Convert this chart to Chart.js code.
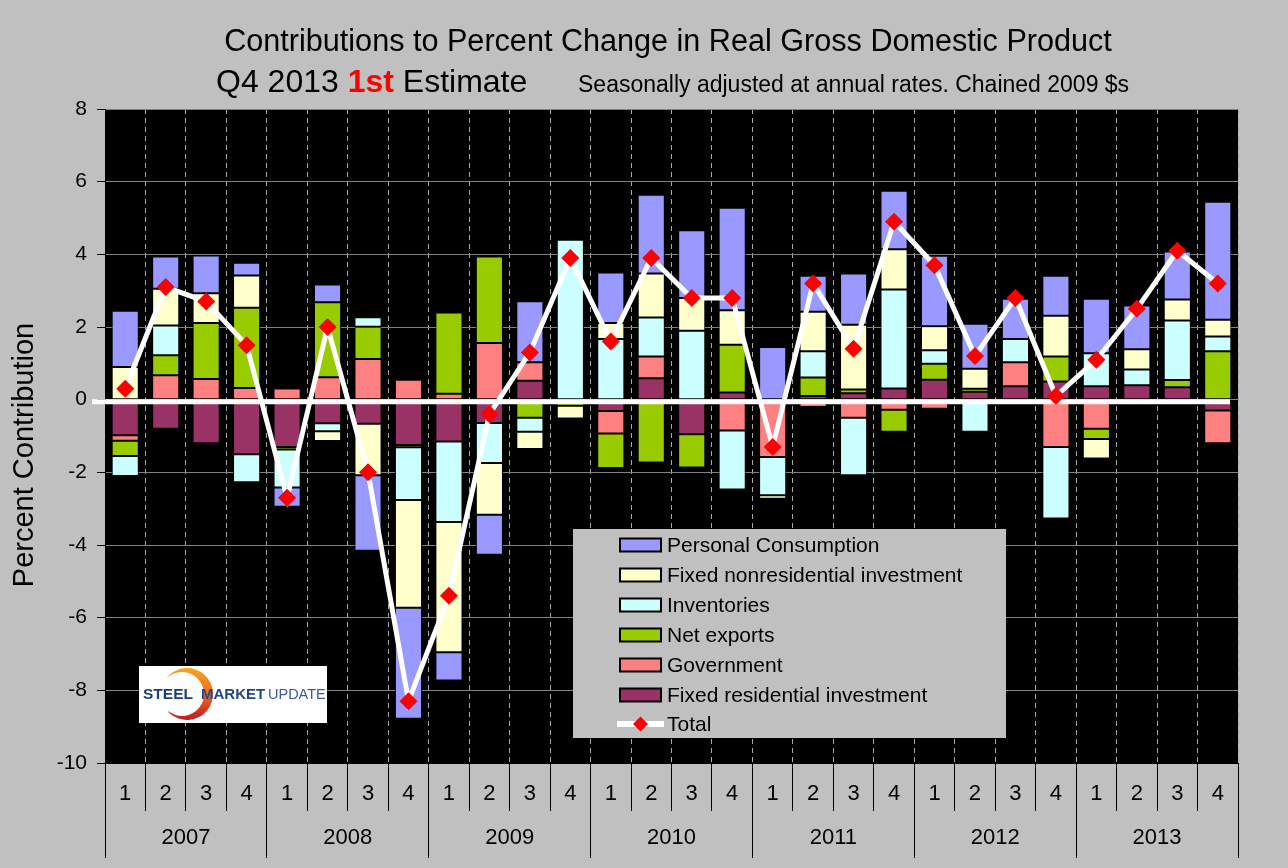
<!DOCTYPE html>
<html>
<head>
<meta charset="utf-8">
<script src="https://cdn.jsdelivr.net/npm/chart.js@4.4.1/dist/chart.umd.min.js"></script>
<style>
html,body{margin:0;padding:0;background:#C0C0C0;}
#wrap{width:1288px;height:868px;position:relative;}
canvas{display:block;}
</style>
</head>
<body>
<div id="wrap"><canvas id="c" width="1288" height="868"></canvas></div>
<script>
// ---------- data ----------
const quarterLabels = ['1','2','3','4','1','2','3','4','1','2','3','4','1','2','3','4','1','2','3','4','1','2','3','4','1','2','3','4'];
const yearLabels = ['2007','2008','2009','2010','2011','2012','2013'];
const yTicks = [8,6,4,2,0,-2,-4,-6,-8,-10];

const personalConsumption = [1.55,0.89,1.04,0.35, -0.53,0.49,-2.08,-3.05, -0.78,-1.10,1.68,0.00, 1.39,2.17,1.86,2.82, 1.45,0.99,1.41,1.61, 1.94,1.24,1.11,1.10, 1.50,1.20,1.32,3.25];
const fixedNonresidential = [0.90,1.01,0.82,0.89, 0.00,-0.27,-1.42,-2.97, -3.58,-1.43,-0.48,-0.35, 0.44,1.21,0.90,0.95, -0.10,1.09,1.78,1.11, 0.66,0.55,0.00,1.12, -0.54,0.56,0.58,0.46];
const inventories = [-0.55,0.82,0.00,-0.77, -1.05,-0.22,0.26,-1.45, -2.22,-1.10,-0.38,4.40, 1.67,1.07,1.90,-1.62, -1.05,0.72,-1.58,2.72, 0.37,-0.88,0.64,-1.97, 0.91,0.43,1.64,0.41];
const netExports = [-0.42,0.55,1.54,2.21, -0.07,2.06,0.89,-0.06, 2.24,2.38,-0.50,-0.17, -0.95,-1.73,-0.92,1.31, 0.00,0.51,0.10,-0.60, 0.44,0.08,0.00,0.69, -0.28,0.00,0.20,1.33];
const government = [-0.15,0.67,0.57,0.32, 0.31,0.62,1.12,0.55, 0.16,1.56,0.51,0.00, -0.62,0.60,0.00,-0.85, -1.58,-0.20,-0.50,-0.28, -0.25,0.00,0.66,-1.30, -0.80,-0.10,0.00,-0.90];
const fixedResidential = [-0.98,-0.80,-1.20,-1.50, -1.30,-0.65,-0.66,-1.25, -1.15,-0.64,0.52,0.00, -0.31,0.59,-0.95,0.20, 0.00,0.10,0.18,0.31, 0.55,0.22,0.37,0.50, 0.37,0.40,0.34,-0.30];
const totalGDP = [0.3,3.1,2.7,1.5, -2.7,2.0,-2.0,-8.3, -5.4,-0.4,1.3,3.9, 1.6,3.9,2.8,2.8, -1.3,3.2,1.4,4.9, 3.7,1.2,2.8,0.1, 1.1,2.5,4.1,3.2];

const titleText = 'Contributions to Percent Change in Real Gross Domestic Product';
const yAxisTitle = 'Percent Contribution';
const FONT = '"Liberation Sans", Arial, Helvetica, sans-serif';

// ---------- plugins ----------
const backgroundPlugin = {
  id: 'bg',
  beforeDraw(chart) {
    const {ctx, chartArea: a} = chart;
    ctx.save();
    ctx.fillStyle = '#C0C0C0';
    ctx.fillRect(0, 0, chart.width, chart.height);
    ctx.fillStyle = '#000000';
    ctx.fillRect(a.left, a.top, a.right - a.left, a.bottom - a.top);
    ctx.restore();
  }
};

const zeroLinePlugin = {
  id: 'zeroLine',
  beforeDatasetDraw(chart, args) {
    if (args.meta.type !== 'line') return;
    const {ctx} = chart;
    const y = chart.scales.y.getPixelForValue(0) + 2;
    ctx.save();
    ctx.strokeStyle = '#FFFFFF';
    ctx.lineWidth = 5;
    ctx.beginPath();
    ctx.moveTo(92, y);
    ctx.lineTo(chart.chartArea.right - 8, y);
    ctx.stroke();
    ctx.restore();
  }
};

const titlesPlugin = {
  id: 'titles',
  afterDraw(chart) {
    const {ctx} = chart;
    ctx.save();
    ctx.fillStyle = '#000';
    ctx.textBaseline = 'middle';
    ctx.textAlign = 'center';
    ctx.font = '30.6px ' + FONT;
    ctx.fillText(titleText, 668, 43);

    ctx.textAlign = 'left';
    let x = 216;
    const y = 83;
    ctx.font = '32px ' + FONT;
    ctx.fillText('Q4 2013 ', x, y);
    x += ctx.measureText('Q4 2013 ').width;
    ctx.font = 'bold 32px ' + FONT;
    ctx.fillStyle = '#FF0000';
    ctx.fillText('1st', x, y);
    x += ctx.measureText('1st').width;
    ctx.font = '32px ' + FONT;
    ctx.fillStyle = '#000';
    ctx.fillText(' Estimate', x, y);
    ctx.font = '23px ' + FONT;
    ctx.fillText('Seasonally adjusted at annual rates. Chained 2009 $s', 578, 86);

    ctx.translate(25, 455);
    ctx.rotate(-Math.PI / 2);
    ctx.textAlign = 'center';
    ctx.font = '29px ' + FONT;
    ctx.fillText(yAxisTitle, 0, 0);
    ctx.restore();
  }
};

const legendPlugin = {
  id: 'boxLegend',
  afterDatasetsDraw(chart) {
    const {ctx} = chart;
    const ds = chart.data.datasets;
    const order = [5,4,3,2,1,0];
    ctx.save();
    ctx.fillStyle = '#C0C0C0';
    ctx.fillRect(573, 529, 433, 209);
    ctx.font = '21px ' + FONT;
    ctx.textBaseline = 'middle';
    ctx.textAlign = 'left';
    let y = 545;
    order.forEach(i => {
      ctx.fillStyle = ds[i].backgroundColor;
      ctx.fillRect(620, y - 6.5, 41, 13);
      ctx.strokeStyle = '#000';
      ctx.lineWidth = 2;
      ctx.strokeRect(620, y - 6.5, 41, 13);
      ctx.fillStyle = '#000';
      ctx.fillText(ds[i].label, 667, y + 1);
      y += 30;
    });
    y -= 1;
    ctx.strokeStyle = '#FFFFFF';
    ctx.lineWidth = 6;
    ctx.beginPath();
    ctx.moveTo(617, y);
    ctx.lineTo(664, y);
    ctx.stroke();
    ctx.fillStyle = '#FF0000';
    ctx.beginPath();
    ctx.moveTo(640.5, y - 7.5);
    ctx.lineTo(648, y);
    ctx.lineTo(640.5, y + 7.5);
    ctx.lineTo(633, y);
    ctx.closePath();
    ctx.fill();
    ctx.fillStyle = '#000';
    ctx.fillText(ds[6].label, 667, y + 1);
    ctx.restore();
  }
};

const logoPlugin = {
  id: 'logo',
  afterDatasetsDraw(chart) {
    const {ctx} = chart;
    ctx.save();
    ctx.fillStyle = '#FFFFFF';
    ctx.fillRect(139, 666, 188, 57);
    const g = ctx.createLinearGradient(0, 668, 0, 721);
    g.addColorStop(0, '#F7A51E');
    g.addColorStop(0.5, '#EE6A23');
    g.addColorStop(1, '#C0161E');
    ctx.fillStyle = g;
    ctx.beginPath();
    ctx.arc(187, 694, 26, -2.42, 2.36, false);
    ctx.arc(182, 694, 22, 2.25, -2.3, true);
    ctx.closePath();
    ctx.fill();
    ctx.textBaseline = 'alphabetic';
    ctx.fillStyle = '#1E3C7C';
    ctx.font = 'bold 15.5px ' + FONT;
    ctx.fillText('STEEL', 143, 699);
    ctx.fillStyle = '#23468A';
    ctx.font = '600 15px ' + FONT;
    ctx.fillText('MARKET', 201, 699);
    ctx.fillStyle = '#3A5A98';
    ctx.font = '14.5px ' + FONT;
    ctx.fillText('UPDATE', 268, 699);
    ctx.restore();
  }
};

// ---------- chart ----------
function barSet(label, data, color) {
  return {
    type: 'bar', label, data,
    backgroundColor: color,
    borderColor: '#000000',
    borderWidth: 1,
    borderSkipped: false,
    barPercentage: 0.67,
    categoryPercentage: 1.0,
    stack: 'parts',
    order: 1
  };
}

new Chart(document.getElementById('c'), {
  data: {
    labels: quarterLabels,
    datasets: [
      barSet('Fixed residential investment', fixedResidential, '#993366'),
      barSet('Government', government, '#FF8080'),
      barSet('Net exports', netExports, '#99CC00'),
      barSet('Inventories', inventories, '#CCFFFF'),
      barSet('Fixed nonresidential investment', fixedNonresidential, '#FFFFCC'),
      barSet('Personal Consumption', personalConsumption, '#9999FF'),
      {
        type: 'line', label: 'Total', data: totalGDP,
        stack: 'total',
        borderColor: '#FFFFFF', borderWidth: 5,
        backgroundColor: '#FF0000',
        pointStyle: 'rectRot', pointRadius: 9,
        pointBackgroundColor: '#FF0000', pointBorderColor: '#FF0000', pointBorderWidth: 0,
        tension: 0, fill: false, order: -1
      }
    ]
  },
  options: {
    responsive: false,
    animation: false,
    layout: { padding: { left: 0, right: 50, top: 109, bottom: 10 } },
    plugins: {
      legend: { display: false },
      tooltip: { enabled: false },
      title: { display: false }
    },
    scales: {
      x: {
        type: 'category',
        position: 'bottom',
        stacked: true,
        offset: true,
        grid: { offset: true, color: '#A8A8A8', lineWidth: 1, tickColor: '#000', tickLength: 48, tickWidth: 1 },
        border: { display: true, color: '#000', width: 1, dash: [5, 4] },
        ticks: { color: '#000', font: { family: FONT, size: 22 }, padding: -30, autoSkip: false, maxRotation: 0, minRotation: 0 },
        afterFit(s) { s.height = 48; }
      },
      x2: {
        type: 'category',
        position: 'bottom',
        labels: yearLabels,
        offset: true,
        grid: { offset: true, drawOnChartArea: false, color: '#000', tickColor: '#000', tickLength: 47, tickWidth: 1 },
        border: { display: false },
        ticks: { color: '#000', font: { family: FONT, size: 22 }, padding: -33, autoSkip: false, maxRotation: 0, minRotation: 0 },
        afterFit(s) { s.height = 47; }
      },
      y: {
        stacked: true,
        min: -10, max: 8,
        afterBuildTicks(s) { s.ticks = yTicks.map(v => ({ value: v })); },
        grid: { color: '#808080', lineWidth: 1, tickColor: '#000', tickLength: 8 },
        border: { display: true, color: '#000', width: 1 },
        ticks: { color: '#000', font: { family: FONT, size: 21 }, padding: 10 },
        title: { display: false },
        afterFit(s) { s.width = 105; }
      }
    }
  },
  plugins: [backgroundPlugin, zeroLinePlugin, legendPlugin, logoPlugin, titlesPlugin]
});
</script>
</body>
</html>
